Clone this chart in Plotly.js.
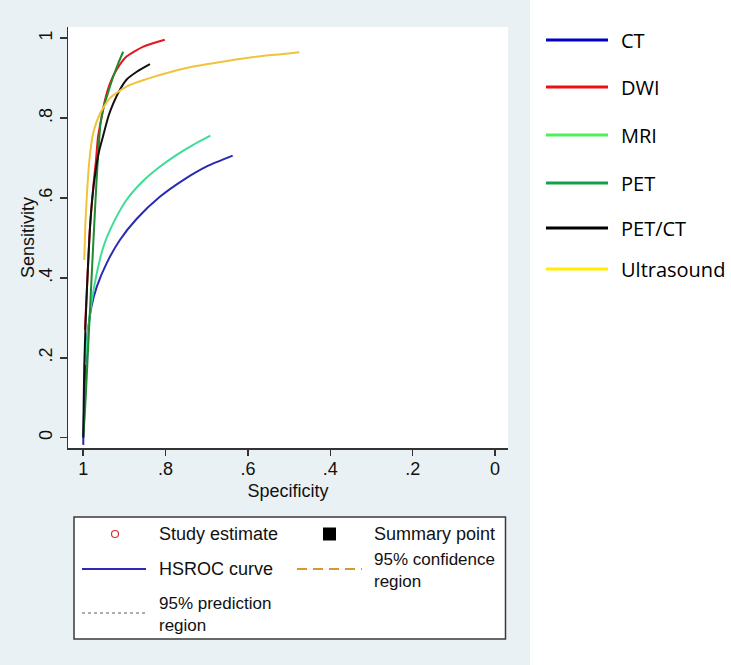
<!DOCTYPE html>
<html>
<head>
<meta charset="utf-8">
<script src="https://cdn.plot.ly/plotly-3.0.1.min.js"></script>
<style>html,body{margin:0;padding:0;background:#fff;}#chart{width:731px;height:665px;}</style>
</head>
<body>
<div id="chart"></div>
<script>
// ---- Data (specificity, sensitivity) ----
const seriesNames = ["CT", "DWI", "MRI", "PET", "PET/CT", "Ultrasound"];

const ctSpec = [1.000, 0.996, 0.990, 0.980, 0.967, 0.943, 0.911, 0.870, 0.814, 0.760, 0.700, 0.637];
const ctSens = [-0.018, 0.144, 0.253, 0.328, 0.378, 0.437, 0.495, 0.548, 0.603, 0.643, 0.679, 0.706];

const dwiSpec = [0.996, 0.992, 0.988, 0.984, 0.975, 0.969, 0.964, 0.955, 0.947, 0.935, 0.919, 0.895, 0.854, 0.802];
const dwiSens = [0.270, 0.353, 0.437, 0.520, 0.635, 0.695, 0.754, 0.804, 0.846, 0.887, 0.921, 0.954, 0.979, 0.996];

const mriSpec = [0.996, 0.988, 0.980, 0.967, 0.951, 0.927, 0.895, 0.854, 0.814, 0.773, 0.733, 0.691];
const mriSens = [0.182, 0.270, 0.337, 0.412, 0.478, 0.537, 0.595, 0.643, 0.678, 0.708, 0.733, 0.756];

const petSpec = [1.000, 0.996, 0.992, 0.988, 0.982, 0.976, 0.968, 0.963, 0.958, 0.950, 0.939, 0.927, 0.915, 0.903];
const petSens = [0.003, 0.061, 0.144, 0.228, 0.353, 0.478, 0.637, 0.720, 0.787, 0.829, 0.866, 0.904, 0.937, 0.966];

const petctSpec = [1.000, 0.999, 0.9975, 0.994, 0.990, 0.984, 0.978, 0.971, 0.962, 0.950, 0.939, 0.927, 0.911, 0.895, 0.870, 0.838];
const petctSens = [0.000, 0.078, 0.178, 0.295, 0.395, 0.520, 0.600, 0.660, 0.715, 0.762, 0.804, 0.837, 0.871, 0.896, 0.916, 0.935];

const usSpec = [0.9975, 0.995, 0.991, 0.985, 0.976, 0.959, 0.935, 0.895, 0.814, 0.733, 0.650, 0.575, 0.520, 0.475];
const usSens = [0.445, 0.530, 0.610, 0.695, 0.762, 0.812, 0.850, 0.879, 0.908, 0.929, 0.943, 0.954, 0.960, 0.965];

const tickVals = [0, 0.2, 0.4, 0.6, 0.8, 1];
const tickText = ["0", ".2", ".4", ".6", ".8", "1"];

const xTitle = "Specificity";
const yTitle = "Sensitivity";

// bottom legend labels
const legendText = ["Study estimate", "Summary point", "HSROC curve", "95% confidence<br>region", "95% prediction<br>region"];

// ---- styling ----
const curveColors = ["#2a2ab4", "#e8141c", "#3ddc97", "#1f8a2e", "#111111", "#f0c43a"];
const legendColors = ["#0000c8", "#ee1111", "#4cf05a", "#12a04a", "#000000", "#ffee00"];

const xs = [ctSpec, dwiSpec, mriSpec, petSpec, petctSpec, usSpec];
const ys = [ctSens, dwiSens, mriSens, petSens, petctSens, usSens];

const traces = seriesNames.map((n, i) => ({
  type: "scatter", mode: "lines", name: n,
  x: xs[i], y: ys[i],
  line: {color: curveColors[i], width: 2, shape: "spline", smoothing: 0.6},
  showlegend: false, hoverinfo: "skip"
}));

// pixel -> paper helpers
const L = 68, R = 508, T = 27, B = 448;
const W = R - L, H = B - T;
const px = v => (v - L) / W;
const py = v => (B - v) / H;

const shapes = [];
const annotations = [];

// gray graph region + white plot region
shapes.push({type: "rect", xref: "paper", yref: "paper", layer: "below",
  x0: px(0), x1: px(530), y0: py(665), y1: py(0), fillcolor: "#eaf1f4", line: {width: 0}});
shapes.push({type: "rect", xref: "paper", yref: "paper", layer: "below",
  x0: 0, x1: 1, y0: 0, y1: 1, fillcolor: "#ffffff", line: {width: 0}});

// bottom legend box
shapes.push({type: "rect", xref: "paper", yref: "paper", layer: "above",
  x0: px(74), x1: px(505.5), y0: py(639), y1: py(517), fillcolor: "#ffffff", line: {color: "#3a3a3a", width: 1.5}});
shapes.push({type: "circle", xref: "paper", yref: "paper", layer: "above",
  x0: px(111.5), x1: px(118.5), y0: py(537.5), y1: py(530.5), line: {color: "#d83030", width: 1.2}});
shapes.push({type: "rect", xref: "paper", yref: "paper", layer: "above",
  x0: px(323), x1: px(336), y0: py(540.5), y1: py(527.5), fillcolor: "#000000", line: {width: 0}});
shapes.push({type: "line", xref: "paper", yref: "paper", layer: "above",
  x0: px(82), x1: px(146), y0: py(569), y1: py(569), line: {color: "#2a2ab4", width: 2}});
shapes.push({type: "line", xref: "paper", yref: "paper", layer: "above",
  x0: px(297), x1: px(362), y0: py(569), y1: py(569), line: {color: "#d8982e", width: 2, dash: "10px,6px"}});
shapes.push({type: "line", xref: "paper", yref: "paper", layer: "above",
  x0: px(82), x1: px(146), y0: py(613), y1: py(613), line: {color: "#8a9898", width: 1.5, dash: "3px,3px"}});

const boxFont = {family: "Liberation Sans, Arial, sans-serif", size: 18, color: "#111111"};
const boxFont2 = {family: "Liberation Sans, Arial, sans-serif", size: 17, color: "#111111"};
const boxPos = [[157, 534], [372, 534], [157, 569], [372, 570], [157, 614]];
legendText.forEach((t, i) => {
  annotations.push({xref: "paper", yref: "paper", x: px(boxPos[i][0]), y: py(boxPos[i][1]),
    xanchor: "left", yanchor: "middle", align: "left", showarrow: false, text: t,
    font: i >= 3 ? boxFont2 : boxFont});
});

// right-hand legend
const rightY = [40, 87, 135, 183, 228, 269];
seriesNames.forEach((n, i) => {
  shapes.push({type: "line", xref: "paper", yref: "paper", layer: "above",
    x0: px(546), x1: px(608), y0: py(rightY[i]), y1: py(rightY[i]), line: {color: legendColors[i], width: 3}});
  annotations.push({xref: "paper", yref: "paper", x: px(619), y: py(rightY[i]),
    xanchor: "left", yanchor: "middle", showarrow: false, text: n,
    font: {family: "Open Sans, sans-serif", size: 20, color: "#000000"}});
});

const axFont = {family: "Liberation Sans, Arial, sans-serif", size: 18, color: "#111111"};

// y-axis title as rotated annotation (sits close to the tick labels as in the reference)
annotations.push({xref: "paper", yref: "paper", x: px(28), y: py(238), xanchor: "center", yanchor: "middle",
  textangle: -90, showarrow: false, text: yTitle, font: axFont});

const layout = {
  width: 731, height: 665,
  margin: {l: L, r: 731 - R, t: T, b: 665 - B, pad: 0},
  paper_bgcolor: "#ffffff",
  plot_bgcolor: "rgba(0,0,0,0)",
  showlegend: false,
  xaxis: {
    range: [1.037, -0.0316], tickvals: tickVals, ticktext: tickText,
    showgrid: false, zeroline: false, showline: true, linecolor: "#333333", linewidth: 1.5,
    ticks: "outside", ticklen: 6, tickwidth: 1.5, tickcolor: "#333333",
    tickfont: axFont, ticklabelstandoff: -2,
    title: {text: xTitle, font: axFont, standoff: 6}
  },
  yaxis: {
    range: [-0.0258, 1.028], tickvals: tickVals, ticktext: tickText, tickangle: -90,
    showgrid: false, zeroline: false, showline: true, linecolor: "#333333", linewidth: 1.5,
    ticks: "outside", ticklen: 7, tickwidth: 1.5, tickcolor: "#333333",
    tickfont: axFont
  },
  shapes: shapes,
  annotations: annotations
};

Plotly.newPlot("chart", traces, layout, {displayModeBar: false, staticPlot: true});
</script>
</body>
</html>
